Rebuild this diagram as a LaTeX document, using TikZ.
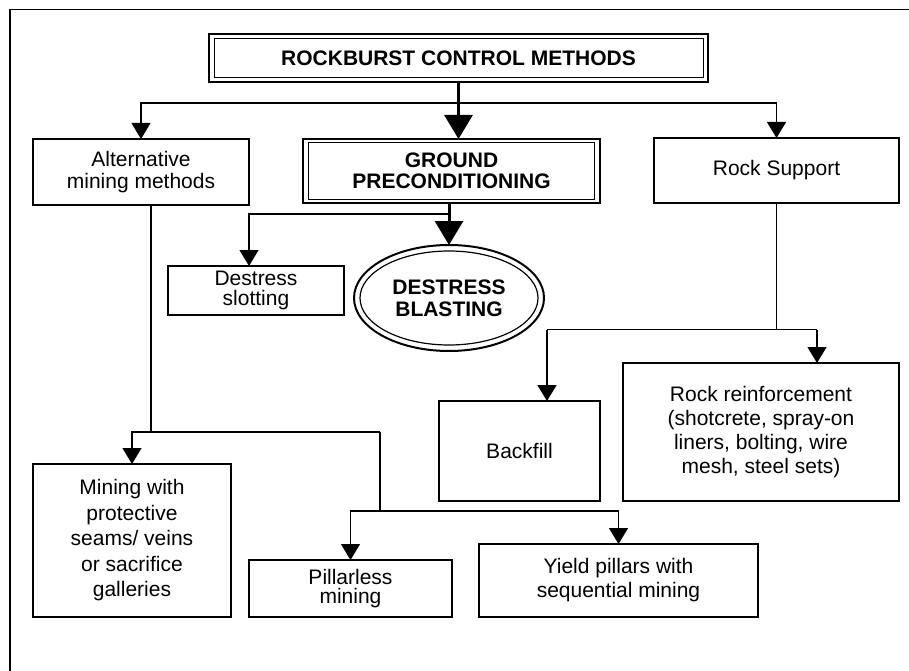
\documentclass[tikz,border=0pt]{standalone}
\usepackage{fontspec}
\setmainfont{Liberation Sans}
\usetikzlibrary{arrows.meta,shapes.geometric}
\begin{document}
\begin{tikzpicture}[x=1pt,y=-1pt,
  box/.style={draw, line width=1.3pt, rectangle, inner sep=0pt, outer sep=0pt, align=center, font=\fontsize{21}{23}\selectfont},
  dbox/.style={box, line width=2.6pt, font=\bfseries\fontsize{21}{21}\selectfont},
  innerline/.style={line width=1pt},
  link/.style={line width=1.2pt},
  arr/.style={link, -{Triangle[width=19pt,length=16pt]}},
  bigarr/.style={line width=3pt, -{Triangle[width=28pt,length=24pt]}},
]
\useasboundingbox (0,0) rectangle (909,671);
\draw[line width=1.5pt] (10,671) -- (10,9.5) -- (909,9.5);

% nodes
\node[dbox, minimum width=499pt, minimum height=48pt] (top) at (458.5,58) {ROCKBURST CONTROL METHODS};
\draw[innerline] ([xshift=5pt,yshift=-4.5pt]top.north west) rectangle ([xshift=-5pt,yshift=4.5pt]top.south east);

\node[box, minimum width=216pt, minimum height=66pt, font=\fontsize{21}{22}\selectfont] (alt) at (141,172) {Alternative\\mining methods};

\node[dbox, minimum width=297pt, minimum height=64pt] (gp) at (451.5,171) {GROUND\\PRECONDITIONING};
\draw[innerline] ([xshift=5.5pt,yshift=-4pt]gp.north west) rectangle ([xshift=-5.5pt,yshift=4pt]gp.south east);

\node[box, minimum width=245pt, minimum height=65pt] (rs) at (776.5,170.5) {Rock Support};

\node[box, minimum width=176pt, minimum height=49pt, font=\fontsize{21}{20}\selectfont] (ds) at (256,290.5) {Destress\\slotting};

\node[ellipse, draw, line width=2pt, minimum width=190pt, minimum height=106pt, inner sep=0pt, outer sep=0pt, align=center, font=\bfseries\fontsize{21}{22}\selectfont] (db) at (449,298) {DESTRESS\\BLASTING};
\draw[line width=1.2pt] (db.center) ellipse [x radius=89pt, y radius=47pt];

\node[box, minimum width=161pt, minimum height=100pt] (bf) at (519.5,451) {Backfill};

\node[box, minimum width=276pt, minimum height=138pt, font=\fontsize{21}{24}\selectfont] (rr) at (761,432) {Rock reinforcement\\(shotcrete, spray-on\\liners, bolting, wire\\mesh, steel sets)};

\node[box, minimum width=198pt, minimum height=153pt, font=\fontsize{21}{25.5}\selectfont] (mw) at (132,540.5) {Mining with\\protective\\seams/ veins\\or sacrifice\\galleries};

\node[box, minimum width=203pt, minimum height=57pt, font=\fontsize{21}{19.5}\selectfont] (pl) at (350.5,588.5) {Pillarless\\mining};

\node[box, minimum width=279pt, minimum height=73pt, font=\fontsize{21}{24}\selectfont] (yp) at (618.5,580.5) {Yield pillars with\\sequential mining};

% connectors from top
\coordinate (j1) at (458.5,103);
\draw[bigarr] (top.south) -- (top.south |- gp.north);
\draw[arr] (j1) -| (alt.north);
\draw[arr] (j1) -| (rs.north);

% ground preconditioning
\coordinate (j2) at (449,214);
\draw[bigarr] (gp.south -| db.north) -- (db.north);
\draw[arr] (j2) -| ([xshift=-7pt]ds.north);

% rock support
\coordinate (j3) at (776.5,329.5);
\coordinate (bfj) at (547,329.5);
\coordinate (rrj) at (817,329.5);
\draw[link] (rs.south) -- (j3);
\draw[link] (bfj) -- (rrj);
\draw[arr, line width=1.8pt] (bfj) -- (bfj |- bf.north);
\draw[arr] (rrj) -- (rrj |- rr.north);

% alternative mining methods
\coordinate (a2) at (151,432);
\coordinate (a3) at (380,432);
\coordinate (a4) at (380,511);
\draw[link] ([xshift=10pt]alt.south) -- (a2);
\draw[arr] (a3) -| (mw.north);
\draw[link] (a3) -- (a4);
\draw[arr] (a4) -| (pl.north);
\draw[arr] (a4) -| (yp.north);
\end{tikzpicture}
\end{document}
